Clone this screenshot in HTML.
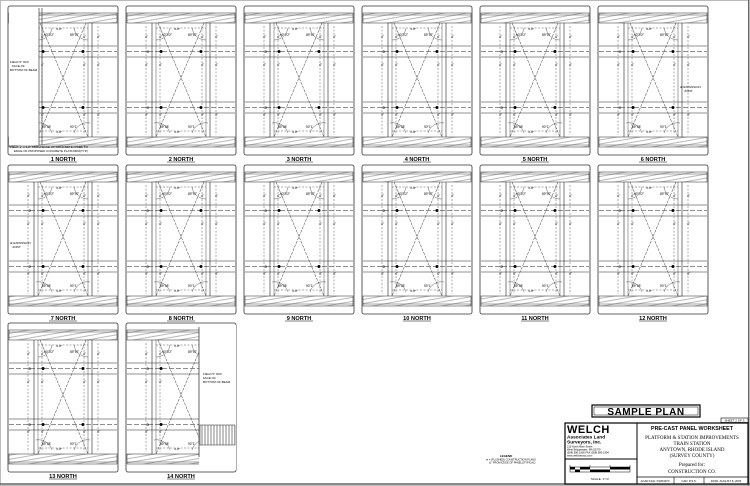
<!DOCTYPE html>
<html><head><meta charset="utf-8"><style>
html,body{margin:0;padding:0;background:#fff;}
svg{display:block;}
text{font-family:"Liberation Sans",sans-serif;}
</style></head><body>
<svg id="s" width="750" height="486" viewBox="0 0 750 486" xmlns="http://www.w3.org/2000/svg">
<defs>
<pattern id="h" width="4" height="4" patternUnits="userSpaceOnUse" patternTransform="rotate(-10)"><line x1="0" y1="2" x2="4" y2="2" stroke="#888" stroke-width="0.6"/></pattern>
<pattern id="v" width="3" height="4" patternUnits="userSpaceOnUse"><line x1="1" y1="0" x2="1" y2="4" stroke="#333" stroke-width="0.6"/></pattern>
</defs>
<rect x="0.5" y="0.5" width="749" height="485" fill="#fff" stroke="#bbb"/>
<line x1="0" y1="484" x2="750" y2="484" stroke="#666" stroke-width="1.5"/>
<line x1="748.5" y1="0" x2="748.5" y2="486" stroke="#666" stroke-width="1"/>
<g id="panels"></g>
<!-- title block -->
<rect x="592" y="405" width="108" height="12" fill="#fff" stroke="#000" stroke-width="1.2"/>
<rect x="594" y="407" width="104" height="8" fill="none" stroke="#000" stroke-width="0.5"/>
<text x="646" y="415" font-size="10" font-weight="bold" text-anchor="middle" letter-spacing="0.5">SAMPLE PLAN</text>
<rect x="721" y="418" width="27" height="4.5" fill="#fff" stroke="#000" stroke-width="0.6"/>
<text x="734.5" y="421.7" font-size="3" text-anchor="middle">SHEET 2 OF 3</text>
<rect x="565" y="423" width="183" height="61" fill="#fff" stroke="#000" stroke-width="1.2"/>
<line x1="637" y1="423" x2="637" y2="484" stroke="#000" stroke-width="1"/>
<line x1="565" y1="459" x2="637" y2="459" stroke="#000" stroke-width="1"/>
<line x1="637" y1="477" x2="748" y2="477" stroke="#000" stroke-width="0.8"/>
<line x1="674" y1="477" x2="674" y2="484" stroke="#000" stroke-width="0.6"/>
<line x1="704" y1="477" x2="704" y2="484" stroke="#000" stroke-width="0.6"/>
<text x="567" y="433" font-size="11" font-weight="bold" letter-spacing="0.5">WELCH</text>
<text x="567" y="438.5" font-size="4.8" font-weight="bold">Associates Land</text>
<text x="567" y="443.5" font-size="4.8" font-weight="bold">Surveyors, Inc.</text>
<text x="567" y="447.5" font-size="2.6">215 North Main Street</text>
<text x="567" y="450.5" font-size="2.6">West Bridgewater, MA 02379</text>
<text x="567" y="453.5" font-size="2.6">(508) 580-1900 FAX (508) 580-1904</text>
<text x="567" y="456.5" font-size="2.6">www.welchassoc.com</text>
<g stroke="#000" stroke-width="0.5">
<line x1="570" y1="465" x2="570" y2="467"/><line x1="590" y1="465" x2="590" y2="467"/><line x1="610" y1="465" x2="610" y2="467"/><line x1="630" y1="465" x2="630" y2="467"/>
</g>
<rect x="570" y="467" width="60" height="5" fill="#fff" stroke="#000" stroke-width="0.5"/>
<g fill="#000"><rect x="570" y="467" width="5" height="2.5"/><rect x="575" y="469.5" width="5" height="2.5"/><rect x="580" y="467" width="10" height="2.5"/><rect x="590" y="469.5" width="20" height="2.5"/><rect x="610" y="467" width="20" height="2.5"/></g>
<text x="600" y="480" font-size="3" text-anchor="middle">SCALE: 1"=4'</text>
<text x="692" y="430" font-size="5.3" font-weight="bold" text-anchor="middle">PRE-CAST PANEL WORKSHEET</text>
<g font-family="Liberation Serif,serif" font-size="5" text-anchor="middle">
<text x="692" y="439" style="font-family:'Liberation Serif',serif">PLATFORM &amp; STATION IMPROVEMENTS</text>
<text x="692" y="445" style="font-family:'Liberation Serif',serif">TRAIN STATION</text>
<text x="692" y="451" style="font-family:'Liberation Serif',serif">ANYTOWN, RHODE ISLAND</text>
<text x="692" y="457" style="font-family:'Liberation Serif',serif">(SURVEY COUNTY)</text>
<text x="692" y="466" style="font-family:'Liberation Serif',serif">Prepared for:</text>
<text x="692" y="473" style="font-family:'Liberation Serif',serif">CONSTRUCTION CO.</text>
</g>
<text x="655" y="482" font-size="2.8" text-anchor="middle">ACAD FILE: P1004970</text>
<text x="689" y="482" font-size="2.8" text-anchor="middle">CAD: P.S.S.</text>
<text x="726" y="482" font-size="2.8" text-anchor="middle">DATE: AUGUST 8, 2003</text>
<text x="506" y="457" font-size="3" text-anchor="middle" font-weight="bold">LEGEND</text>
<text x="486" y="460.5" font-size="2.6">⊕ = (FLUSHED) CONSTRUCTION PLANS</text>
<text x="489" y="463.5" font-size="2.6">(1" FROM EDGE OF PANEL)(TYPICAL)</text>
</svg>
<script>
var NS="http://www.w3.org/2000/svg",G=document.getElementById("panels"),out="";
function P(x,y,n){
 var w=110,h=149,s="";
 s+='<rect x="'+x+'" y="'+y+'" width="'+w+'" height="'+h+'" rx="2" fill="#fff" stroke="#333" stroke-width="0.8"/>';
 var L=x+1,R=x+w-1;
 // top band
 s+='<rect x="'+L+'" y="'+(y+7)+'" width="'+(w-2)+'" height="10" fill="url(#h)" stroke="#222" stroke-width="0.5"/>';
 s+='<line x1="'+L+'" y1="'+(y+9)+'" x2="'+R+'" y2="'+(y+9)+'" stroke="#222" stroke-width="0.4"/>';
 s+='<rect x="'+L+'" y="'+(y+h-18)+'" width="'+(w-2)+'" height="10" fill="url(#h)" stroke="#222" stroke-width="0.5"/>';
 s+='<line x1="'+L+'" y1="'+(y+h-10)+'" x2="'+R+'" y2="'+(y+h-10)+'" stroke="#222" stroke-width="0.4"/>';
 // horizontal bands
 [40,96].forEach(function(b){
  s+='<line x1="'+L+'" y1="'+(y+b)+'" x2="'+R+'" y2="'+(y+b)+'" stroke="#222" stroke-width="0.5"/>';
  s+='<line x1="'+L+'" y1="'+(y+b+11)+'" x2="'+R+'" y2="'+(y+b+11)+'" stroke="#222" stroke-width="0.5"/>';
  s+='<line x1="'+L+'" y1="'+(y+b+5.5)+'" x2="'+R+'" y2="'+(y+b+5.5)+'" stroke="#222" stroke-width="0.5" stroke-dasharray="5,2"/>';
  s+='<circle cx="'+(x+35)+'" cy="'+(y+b+5.5)+'" r="1.5" fill="#000"/><circle cx="'+(x+75)+'" cy="'+(y+b+5.5)+'" r="1.5" fill="#000"/>';
  s+='<text x="'+(x+20)+'" y="'+(y+b+7)+'" font-size="4">⊕</text>';
 });
 // verticals
 var T=y+17,B=y+h-18;
 [26,30,80,84].forEach(function(d,i){
  s+='<line x1="'+(x+d)+'" y1="'+T+'" x2="'+(x+d)+'" y2="'+B+'" stroke="#222" stroke-width="'+(i==0||i==3?0.6:0.4)+'"/>';
 });
 [20,34,76,90].forEach(function(d){
  s+='<line x1="'+(x+d)+'" y1="'+(y+20)+'" x2="'+(x+d)+'" y2="'+(B-2)+'" stroke="#333" stroke-width="0.4" stroke-dasharray="2,1.5"/>';
 });
 [32,60,110].forEach(function(o){[19,33,75,89].forEach(function(d){
  s+='<text x="'+(x+d)+'" y="'+(y+o)+'" font-size="3.2">4"</text>';});});
 // horizontal dashed dims
 s+='<line x1="'+(x+30)+'" y1="'+(y+22)+'" x2="'+(x+80)+'" y2="'+(y+22)+'" stroke="#333" stroke-width="0.4" stroke-dasharray="2,1.5"/>';
 s+='<line x1="'+(x+30)+'" y1="'+(B-6)+'" x2="'+(x+80)+'" y2="'+(B-6)+'" stroke="#333" stroke-width="0.4" stroke-dasharray="2,1.5"/>';
 // X diagonals
 s+='<line x1="'+(x+32)+'" y1="'+T+'" x2="'+(x+80)+'" y2="'+B+'" stroke="#333" stroke-width="0.5" stroke-dasharray="3,1"/>';
 s+='<line x1="'+(x+78)+'" y1="'+T+'" x2="'+(x+30)+'" y2="'+B+'" stroke="#333" stroke-width="0.5" stroke-dasharray="3,1"/>';
 // arcs
 s+='<path d="M'+(x+30)+','+(y+34)+' A14,14 0 0 0 '+(x+44)+','+(y+22)+'" fill="none" stroke="#333" stroke-width="0.4"/>';
 s+='<path d="M'+(x+80)+','+(y+34)+' A14,14 0 0 1 '+(x+66)+','+(y+22)+'" fill="none" stroke="#333" stroke-width="0.4"/>';
 s+='<path d="M'+(x+28)+','+(B-14)+' A14,14 0 0 1 '+(x+44)+','+(B-4)+'" fill="none" stroke="#333" stroke-width="0.4"/>';
 s+='<path d="M'+(x+82)+','+(B-14)+' A14,14 0 0 0 '+(x+66)+','+(B-4)+'" fill="none" stroke="#333" stroke-width="0.4"/>';
 s+='<text x="'+(x+36)+'" y="'+(y+30)+'" font-size="3.2">90°0\'2"</text>';
 s+='<text x="'+(x+62)+'" y="'+(y+30)+'" font-size="3.2">89°57\'</text>';
 s+='<text x="'+(x+34)+'" y="'+(B-9)+'" font-size="3.2">89°58\'</text>';
 s+='<text x="'+(x+62)+'" y="'+(B-9)+'" font-size="3.2">90°1\'</text>';
 s+='<text x="'+(x+48)+'" y="'+(y+24)+'" font-size="3">4\'-8"</text>';
 s+='<text x="'+(x+48)+'" y="'+(B-4)+'" font-size="3">4\'-8"</text>';
 s+='<text x="'+(x+w/2)+'" y="'+(y+h+6)+'" font-size="5.6" font-weight="bold" text-anchor="middle">'+n+' NORTH</text>';
 s+='<line x1="'+(x+w/2-14)+'" y1="'+(y+h+7)+'" x2="'+(x+w/2+14)+'" y2="'+(y+h+7)+'" stroke="#000" stroke-width="0.5"/>';
 return s;
}
var xs=[8,126,244,362,480,598],ys=[6,165,323],n=1;
for(var r=0;r<3;r++)for(var c=0;c<6;c++){if(n>14)break;out+=P(xs[c],ys[r],n);n++;}
// extras
out+='<rect x="9" y="8" width="30" height="137" fill="#fff"/><line x1="39" y1="8" x2="39" y2="145" stroke="#222" stroke-width="0.6"/><line x1="42" y1="8" x2="42" y2="145" stroke="#222" stroke-width="0.6"/>';
out+='<text x="10" y="63" font-size="3">FIELD 5" OFF</text><text x="12" y="67" font-size="3">FACE OF</text><text x="10" y="71" font-size="3">BOTTOM OF BEAM</text>';
out+='<text x="10" y="148" font-size="3">FIELD 1"-1"1/2" FROM EDGE OF CONCRETE PANEL TO</text><text x="14" y="152" font-size="3">EDGE OF PROPOSED CONCRETE PLATFORM(TYP.)</text>';
out+='<text x="680" y="88" font-size="3">⊕ EXPANSION</text><text x="684" y="92" font-size="3">JOINT</text>';
out+='<text x="10" y="244" font-size="3">⊕ EXPANSION</text><text x="12" y="248" font-size="3">JOINT</text>';
out+='<rect x="199" y="325" width="37" height="145" fill="#fff"/><line x1="199" y1="327" x2="199" y2="457" stroke="#222" stroke-width="0.7"/>';
out+='<rect x="200" y="425" width="35" height="20" fill="url(#v)" stroke="#222" stroke-width="0.5"/>';
out+='<text x="203" y="375" font-size="3">FIELD 5" OFF</text><text x="203" y="379" font-size="3">FACE OF</text><text x="203" y="383" font-size="3">BOTTOM OF BEAM</text>';
G.innerHTML=out;
</script>
</body></html>
